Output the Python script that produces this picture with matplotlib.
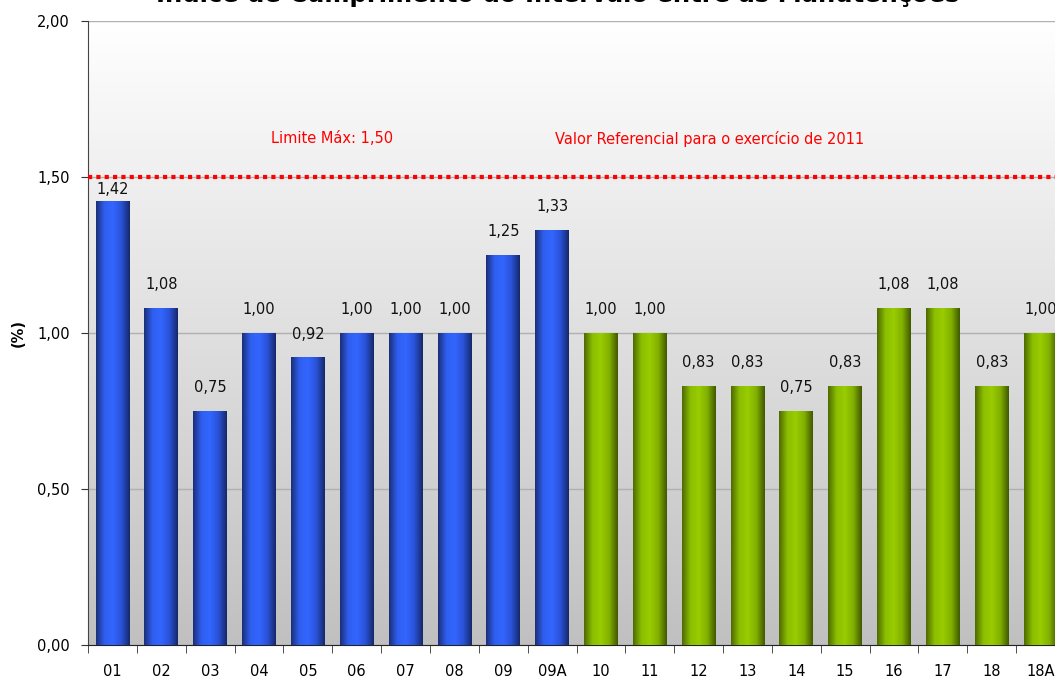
import numpy as np
import matplotlib.pyplot as plt
from matplotlib.colors import LinearSegmentedColormap

plt.rcParams['font.family'] = 'DejaVu Sans'

categories = ['01', '02', '03', '04', '05', '06', '07', '08', '09', '09A',
              '10', '11', '12', '13', '14', '15', '16', '17', '18', '18A']
values = [1.42, 1.08, 0.75, 1.00, 0.92, 1.00, 1.00, 1.00, 1.25, 1.33,
          1.00, 1.00, 0.83, 0.83, 0.75, 0.83, 1.08, 1.08, 0.83, 1.00]
n_blue = 10
limit = 1.50

blue_cmap = LinearSegmentedColormap.from_list('b', ['#1b2e78', '#2f5ff0', '#3366ff', '#2a52d8', '#16286a'])
green_cmap = LinearSegmentedColormap.from_list('g', ['#4d6a00', '#8cbf00', '#99cc00', '#82b000', '#3f5800'])
bg_cmap = LinearSegmentedColormap.from_list('bg', ['#ffffff', '#c0c0c0'])


def fmt(v):
    return f'{v:.2f}'.replace('.', ',')


fig = plt.figure(figsize=(10.55, 6.8), dpi=100)
ax = fig.add_axes([88 / 1055, 35 / 680, 977 / 1055, 624 / 680])

x = np.arange(len(categories))
bars = ax.bar(x, values, width=0.69, color='none', zorder=3)

# background gradient, white at top to grey at bottom
bg = np.linspace(0, 1, 256).reshape(-1, 1)
ax.imshow(bg, extent=[0, 1, 0, 1], origin='upper', transform=ax.transAxes,
          cmap=bg_cmap, aspect='auto', zorder=0)

# cylinder-style shading on each bar
grad = np.linspace(0, 1, 128).reshape(1, -1)
for i, b in enumerate(bars):
    x0, w, h = b.get_x(), b.get_width(), b.get_height()
    cmap = blue_cmap if i < n_blue else green_cmap
    ax.imshow(grad, extent=[x0, x0 + w, 0, h], cmap=cmap, aspect='auto', zorder=3)
    # labels sit above the bar but stay under the limit line
    ly = min(h + 0.074, limit - 0.04)
    ax.text(x0 + w / 2, ly, fmt(values[i]), ha='center', va='center',
            fontsize=10.5, color='#111111', zorder=4)
ax.set_xlim(-0.5, len(categories) - 0.5)
ax.set_ylim(0, 2.0)

ax.axhline(limit, color='red', lw=3, linestyle=(0, (1, 1)), dash_capstyle='butt', zorder=5)

ax.text(4.5, 1.622, 'Limite Máx: 1,50', color='red', fontsize=10.5, ha='center', va='center')
ax.text(9.05, 1.622, 'Valor Referencial para o exercício de 2011', color='red',
        fontsize=10.5, ha='left', va='center')

ax.set_yticks([0, 0.5, 1.0, 1.5, 2.0])
ax.set_yticklabels([fmt(v) for v in [0, 0.5, 1.0, 1.5, 2.0]], fontsize=10.5)
ax.yaxis.grid(True, color='#b0b0b0', lw=1, zorder=1)
ax.set_axisbelow(True)
ax.tick_params(axis='y', length=5, color='#333333', pad=8)

ax.set_xticks(x)
ax.set_xticklabels(categories, fontsize=10.5)
ax.set_xticks(np.arange(-0.5, len(categories)), minor=True)
ax.tick_params(axis='x', which='major', length=0, pad=14)
ax.tick_params(axis='x', which='minor', length=6, color='#333333')

ax.set_ylabel('(%)', fontsize=10.5, fontweight='bold', labelpad=8)

for s in ['top', 'right']:
    ax.spines[s].set_visible(False)
ax.spines['left'].set_color('#444444')
ax.spines['bottom'].set_color('#222222')

fig.text(558 / 1055, 1 - 2 / 680, 'Índice de Cumprimento do Intervalo entre as Manutenções',
         ha='center', va='baseline', fontsize=17.5, fontweight='bold')

fig.savefig('out.png', dpi=100)
